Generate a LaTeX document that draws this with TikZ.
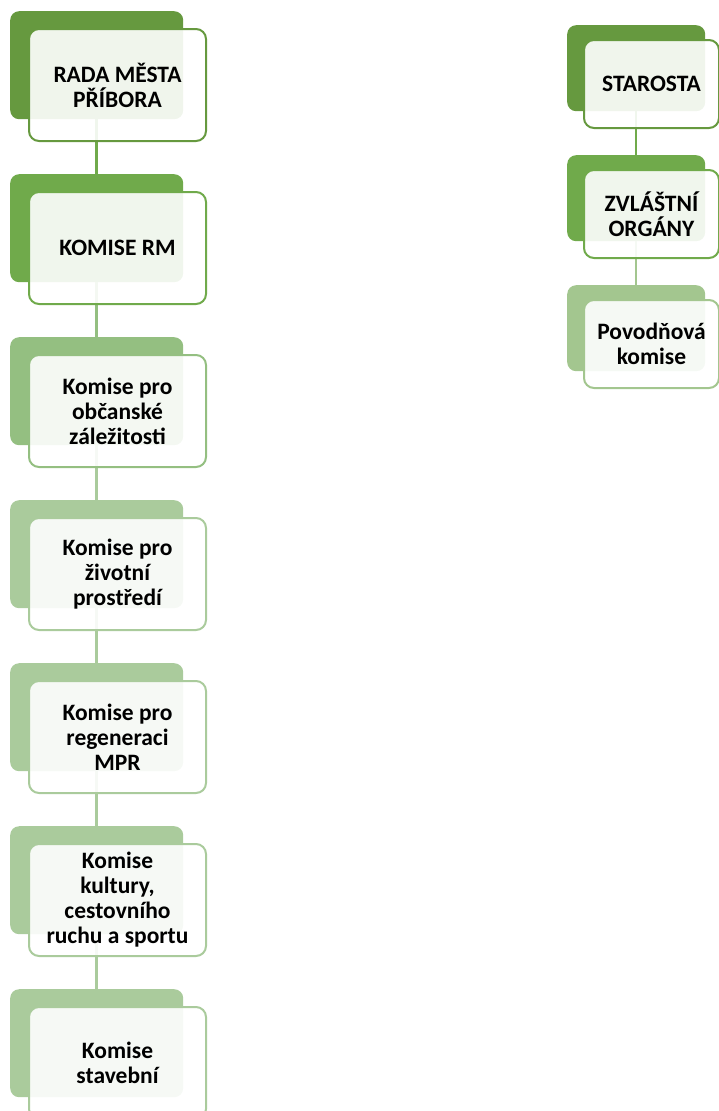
\documentclass[tikz,border=0pt]{standalone}
\usepackage{fontspec}
\setmainfont{Carlito}
\definecolor{gA}{HTML}{66993F}
\definecolor{gB}{HTML}{70AA4B}
\definecolor{gC}{HTML}{94BF81}
\definecolor{gD}{HTML}{AACB9C}
\definecolor{gE}{HTML}{A3C68F}
\begin{document}
\begin{tikzpicture}[x=1pt,y=-1pt,
  back/.style={rectangle, rounded corners=9pt, anchor=north west, inner sep=0pt, draw=none},
  backL/.style={back, minimum width=173pt, minimum height=108pt},
  backR/.style={back, minimum width=138pt, minimum height=86pt},
  front/.style={rectangle, rounded corners=10pt, anchor=north west, inner sep=0pt, line width=2pt,
    fill=white, fill opacity=0.9, text opacity=1, align=center, text=black,
    font=\bfseries\fontsize{23.5}{25}\selectfont},
  frontL/.style={front, minimum width=177pt, minimum height=112pt},
  frontR/.style={front, minimum width=135pt, minimum height=88pt},
  conn/.style={line width=2.5pt}]
\useasboundingbox (0,0) rectangle (719,1111);

% back boxes, left column
\node[backL, fill=gA] (b1) at (10,11) {};
\node[backL, fill=gB] (b2) at (10,174) {};
\node[backL, fill=gC] (b3) at (10,337) {};
\node[backL, fill=gD] (b4) at (10,500) {};
\node[backL, fill=gD] (b5) at (10,663) {};
\node[backL, fill=gD] (b6) at (10,826) {};
\node[backL, fill=gD] (b7) at (10,989) {};
% back boxes, right column
\node[backR, fill=gA] (r1) at (567,25) {};
\node[backR, fill=gB] (r2) at (567,155) {};
\node[backR, fill=gE] (r3) at (567,285) {};

% connectors
\draw[conn, gB] (b1.south) -- (b2.north);
\draw[conn, gC] (b2.south) -- (b3.north);
\draw[conn, gD] (b3.south) -- (b4.north);
\draw[conn, gD] (b4.south) -- (b5.north);
\draw[conn, gD] (b5.south) -- (b6.north);
\draw[conn, gD] (b6.south) -- (b7.north);
\draw[conn, gB] (r1.south) -- (r2.north);
\draw[conn, gE] (r2.south) -- (r3.north);

% front boxes, left column
\node[frontL, draw=gA] (f1) at (28,28) {RADA MĚSTA\\PŘÍBORA};
\node[frontL, draw=gB] (f2) at (28,191) {KOMISE RM};
\node[frontL, draw=gC] (f3) at (28,354) {Komise pro\\občanské\\záležitosti};
\node[frontL, draw=gD] (f4) at (28,517) {Komise pro\\životní\\prostředí};
\node[frontL, draw=gD] (f5) at (28,680) {Komise pro\\regeneraci\\MPR};
\node[frontL, draw=gD] (f6) at (28,843) {Komise\\kultury,\\cestovního\\ruchu a sportu};
\node[frontL, draw=gD] (f7) at (28,1006) {Komise\\stavební};
% front boxes, right column
\node[frontR, draw=gA] (g1) at (583,39) {STAROSTA};
\node[frontR, draw=gB] (g2) at (583,169) {ZVLÁŠTNÍ\\ORGÁNY};
\node[frontR, draw=gE] (g3) at (583,299) {Povodňová\\komise};
\end{tikzpicture}
\end{document}
